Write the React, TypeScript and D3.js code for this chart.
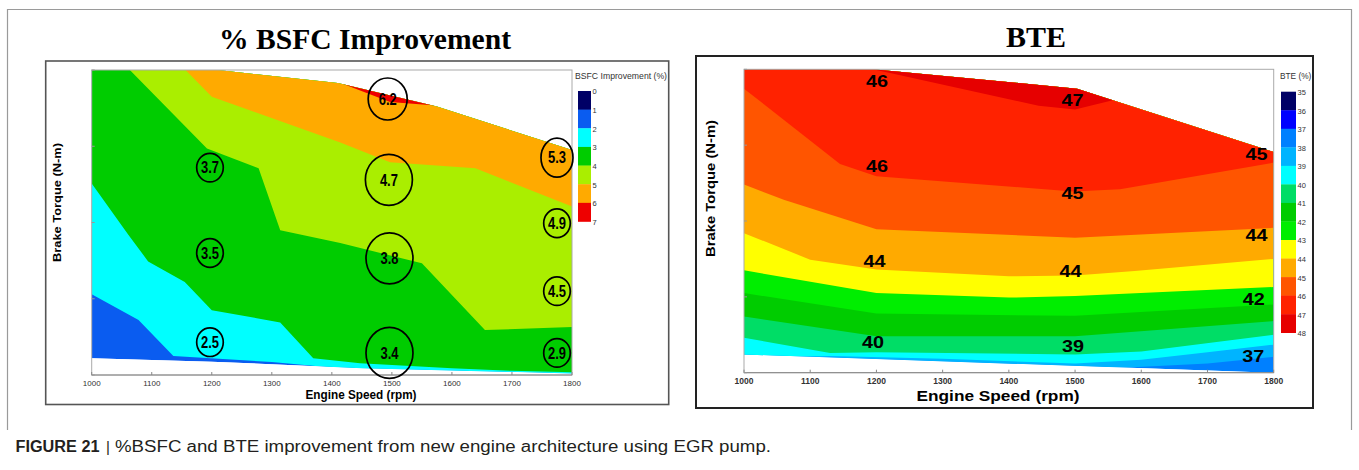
import React from "react";
import * as d3 from "d3";

type P = [number, number];

// ---------- shared axes ----------
const rpmTicks = [1000, 1100, 1200, 1300, 1400, 1500, 1600, 1700, 1800];
const torqueTicks = [0, 100, 200, 300, 400];

// ---------- % BSFC improvement ----------
const bsfcLevels = [0, 1, 2, 3, 4, 5, 6, 7];
const bsfcColors = ["#000066", "#0a5cf0", "#00ffff", "#00cc00", "#aaee00", "#ffaa00", "#ee0000"];
const bsfcTopEdge: P[] = [[1000, 400], [1210, 400], [1410, 383], [1575, 352], [1800, 295]];
const bsfcBottomEdge: P[] = [[1000, 22], [1200, 17.5], [1450, 9], [1800, 2]];
// contour lines (rpm, torque) of each level
const bsfcIso2: P[] = [[1000, 106], [1078, 72], [1136, 25], [1300, 17], [1400, 10], [1800, -5]];
const bsfcIso3: P[] = [[1000, 251], [1061, 184], [1094, 149], [1155, 122], [1200, 85], [1314, 69], [1369, 22], [1447, 15.5], [1600, 9], [1700, 5.5], [1800, 3.5]];
const bsfcIso4: P[] = [[1061, 402], [1192, 297], [1278, 271], [1314, 190], [1414, 173], [1550, 146.5], [1655, 59], [1800, 63]];
const bsfcIso5: P[] = [[1155, 401], [1200, 365], [1414, 305], [1497, 279], [1639, 271], [1800, 221]];
const bsfcIso6: P[] = [[1405, 386], [1497, 358], [1578, 353]];
const bsfcPoints: [number, number, string][] = [
  [1197, 272, "3.7"], [1197, 160, "3.5"], [1197, 43, "2.5"],
  [1493, 362, "6.2"], [1495, 256, "4.7"], [1496, 153, "3.8"], [1496, 29, "3.4"],
  [1775, 285, "5.3"], [1775, 199, "4.9"], [1775, 110, "4.5"], [1775, 29, "2.9"],
];

// ---------- BTE ----------
const bteLevels = [35, 36, 37, 38, 39, 40, 41, 42, 43, 44, 45, 46, 47, 48];
const bteColors = ["#000066", "#0000ff", "#0080ff", "#00b4ff", "#00ffff", "#00dd66", "#00cc00", "#00ee00", "#ffff00", "#ffaa00", "#ff5500", "#ff2200", "#e60000"];
const bteTopEdge: P[] = [[1000, 400], [1194, 400], [1503, 374.5], [1800, 291]];
const bteBottomEdge: P[] = [[1000, 24], [1800, 0]];
const bteIso38: P[] = [[1000, 10], [1400, 5], [1580, 7], [1700, 12], [1800, 21]];
const bteIso39: P[] = [[1000, 20], [1130, 22], [1300, 18.5], [1500, 12], [1600, 17], [1700, 27], [1800, 37]];
const bteIso40: P[] = [[1000, 46], [1130, 26], [1200, 27], [1500, 24], [1600, 28], [1800, 50]];
const bteIso41: P[] = [[1000, 74], [1200, 48], [1500, 48], [1800, 68]];
const bteIso42: P[] = [[1000, 105], [1200, 78], [1500, 75], [1800, 90]];
const bteIso43: P[] = [[1000, 135], [1200, 105], [1400, 99], [1500, 101], [1800, 113]];
const bteIso44: P[] = [[1000, 184], [1100, 149], [1200, 136], [1400, 127], [1500, 128], [1590, 134], [1800, 150]];
const bteIso45: P[] = [[1000, 248], [1060, 228], [1200, 189], [1500, 178], [1800, 191]];
const bteIso46: P[] = [[1000, 374.5], [1145, 275], [1200, 259], [1497, 239], [1568, 242], [1800, 277]];
const bteIso47: P[] = [[1190, 401], [1445, 352], [1500, 347], [1560, 360]];
const btePoints: [number, number, string][] = [
  [1201, 384, "46"], [1496, 359, "47"], [1774, 288, "45"],
  [1201, 272, "46"], [1496, 237, "45"], [1774, 182, "44"],
  [1197, 147, "44"], [1493, 134, "44"], [1770, 97, "42"],
  [1195, 41, "40"], [1497, 35, "39"], [1769, 21.5, "37"],
];

const SANS = "'Liberation Sans', Arial, Helvetica, sans-serif";
const NARROW = "'Liberation Sans Narrow', 'Arial Narrow', 'Liberation Sans', Arial, sans-serif";
const SERIF = "'Liberation Serif', 'Times New Roman', serif";

type Scale = d3.ScaleLinear<number, number>;

function linePath(pts: P[], x: Scale, y: Scale) {
  return d3.line<P>().x((d) => x(d[0])).y((d) => y(d[1]))(pts) + "Z";
}
function bandPath(iso: P[], x: Scale, y: Scale) {
  const first = iso[0];
  const last = iso[iso.length - 1];
  return linePath([...iso, [last[0], 2000], [first[0], 2000]], x, y);
}

function ContourFill(props: {
  id: string; x: Scale; y: Scale; top: P[]; bottom: P[];
  levels: number[]; colors: string[]; base: number; isolines: { level: number; pts: P[] }[];
}) {
  const { id, x, y, top, bottom, levels, colors, base, isolines } = props;
  const domain = linePath([...top, ...bottom.slice().reverse()], x, y);
  const col = (lv: number) => colors[levels.indexOf(lv)];
  return (
    <g>
      <defs>
        <clipPath id={id}><path d={domain} /></clipPath>
      </defs>
      <g clipPath={`url(#${id})`}>
        <path d={domain} fill={col(base)} />
        {isolines.map((iso) => (
          <path key={iso.level} d={bandPath(iso.pts, x, y)} fill={col(iso.level)} />
        ))}
      </g>
    </g>
  );
}

function ColorBar(props: { x: number; w: number; y0: number; y1: number; levels: number[]; colors: string[]; fs: number }) {
  const { x, w, y0, y1, levels, colors, fs } = props;
  const s = d3.scaleLinear().domain([levels[0], levels[levels.length - 1]]).range([y0, y1]);
  return (
    <g>
      {colors.map((c, i) => (
        <rect key={i} x={x} y={s(levels[i])} width={w} height={s(levels[i + 1]) - s(levels[i]) + 0.3} fill={c} />
      ))}
      {levels.map((l) => (
        <text key={l} x={x + w + 1.5} y={s(l) + 1.5} fontSize={fs} fontFamily={SANS} fill="#333" dominantBaseline="middle">{l}</text>
      ))}
    </g>
  );
}

function Axes(props: { x: Scale; y: Scale; fs: number; weight: string; labelY: number }) {
  const { x, y, fs, weight, labelY } = props;
  const [x0, x1] = x.range();
  const [yb, yt] = y.range();
  return (
    <g>
      <rect x={x0} y={yt} width={x1 - x0} height={yb - yt} fill="none" stroke="#aaa" strokeWidth={1} />
      <line x1={x0} x2={x1} y1={yb} y2={yb} stroke="#888" strokeWidth={1} />
      {rpmTicks.map((t) => (
        <g key={t}>
          <line x1={x(t)} x2={x(t)} y1={yb} y2={yb - 3} stroke="#888" />
          <text x={x(t)} y={labelY} fontSize={fs} fontWeight={weight} fontFamily={NARROW} fill="#333" textAnchor="middle">{t}</text>
        </g>
      ))}
      {torqueTicks.map((t) => (
        <line key={t} x1={x0} x2={x0 + 3} y1={y(t)} y2={y(t)} stroke="#999" />
      ))}
    </g>
  );
}

export default function App() {
  const xL = d3.scaleLinear().domain([1000, 1800]).range([91.7, 572]);
  const yL = d3.scaleLinear().domain([0, 400]).range([375, 70]);
  const xR = d3.scaleLinear().domain([1000, 1800]).range([744, 1273.7]);
  const yR = d3.scaleLinear().domain([0, 400]).range([372.7, 69.3]);

  const bsfcIsolines = [
    { level: 2, pts: bsfcIso2 }, { level: 3, pts: bsfcIso3 }, { level: 4, pts: bsfcIso4 },
    { level: 5, pts: bsfcIso5 }, { level: 6, pts: bsfcIso6 },
  ];
  const bteIsolines = [
    { level: 38, pts: bteIso38 }, { level: 39, pts: bteIso39 }, { level: 40, pts: bteIso40 },
    { level: 41, pts: bteIso41 }, { level: 42, pts: bteIso42 }, { level: 43, pts: bteIso43 },
    { level: 44, pts: bteIso44 }, { level: 45, pts: bteIso45 }, { level: 46, pts: bteIso46 },
    { level: 47, pts: bteIso47 },
  ];

  const circleR = (rpm: number, label: string): [number, number] => {
    if (label === "6.2") return [19.5, 21];
    if (label === "5.3") return [16, 19.5];
    if (rpm > 1400 && rpm < 1600) return [23.5, 25.5];
    return [13.3, 14.3];
  };

  return (
    <svg width={1359} height={470} style={{ position: "absolute", left: 0, top: 0, background: "#fff" }}>
      <rect x={0} y={0} width={1359} height={470} fill="#fff" />
      {/* figure border */}
      <path d="M7.5,430 V9.5 H1351.5 V430" fill="none" stroke="#9a9a9a" strokeWidth={1.2} />

      {/* ---------- left panel ---------- */}
      <rect x={45.7} y={61} width={623} height={343.5} fill="#fff" stroke="#555" strokeWidth={1.6} />
      <text x={365} y={49} textAnchor="middle" fontFamily={SERIF} fontWeight="bold" fontSize={30} textLength={292} lengthAdjust="spacingAndGlyphs">% BSFC Improvement</text>
      <ContourFill id="clipL" x={xL} y={yL} top={bsfcTopEdge} bottom={bsfcBottomEdge} levels={bsfcLevels} colors={bsfcColors} base={1} isolines={bsfcIsolines} />
      <Axes x={xL} y={yL} fs={8} weight="normal" labelY={385.5} />
      {bsfcPoints.map(([r, t, s], i) => {
        const [rx, ry] = circleR(r, s);
        return (
          <g key={i}>
            <ellipse cx={xL(r)} cy={yL(t)} rx={rx} ry={ry} fill="none" stroke="#000" strokeWidth={1.7} />
            <text x={xL(r)} y={yL(t) + 5.8} textAnchor="middle" fontFamily={NARROW} fontWeight="bold" fontSize={16.5} textLength={18} lengthAdjust="spacingAndGlyphs">{s}</text>
          </g>
        );
      })}
      <text x={575} y={79} fontFamily={SANS} fontSize={8.3} fill="#333" textLength={92} lengthAdjust="spacingAndGlyphs">BSFC Improvement (%)</text>
      <ColorBar x={578} w={13} y0={91} y1={221.5} levels={bsfcLevels} colors={bsfcColors} fs={7.5} />
      <text transform="translate(61,202.5) rotate(-90)" textAnchor="middle" fontFamily={SANS} fontWeight="bold" fontSize={11} textLength={119} lengthAdjust="spacingAndGlyphs">Brake Torque (N-m)</text>
      <text x={361} y={399} textAnchor="middle" fontFamily={SANS} fontWeight="bold" fontSize={13} textLength={111} lengthAdjust="spacingAndGlyphs">Engine Speed (rpm)</text>

      {/* ---------- right panel ---------- */}
      <rect x={696} y={56} width={617} height={352} fill="#fff" stroke="#222" strokeWidth={2} />
      <text x={1036} y={47} textAnchor="middle" fontFamily={SERIF} fontWeight="bold" fontSize={30}>BTE</text>
      <ContourFill id="clipR" x={xR} y={yR} top={bteTopEdge} bottom={bteBottomEdge} levels={bteLevels} colors={bteColors} base={37} isolines={bteIsolines} />
      <Axes x={xR} y={yR} fs={8.5} weight="bold" labelY={384} />
      {btePoints.map(([r, t, s], i) => (
        <text key={i} x={xR(r)} y={yR(t) + 6} textAnchor="middle" fontFamily={SANS} fontWeight="bold" fontSize={17} textLength={22} lengthAdjust="spacingAndGlyphs">{s}</text>
      ))}
      <text x={1280} y={79} fontFamily={SANS} fontSize={8.3} fill="#333">BTE (%)</text>
      <ColorBar x={1281} w={15} y0={91.7} y1={332.7} levels={bteLevels} colors={bteColors} fs={7.5} />
      <text transform="translate(715,188.5) rotate(-90)" textAnchor="middle" fontFamily={SANS} fontWeight="bold" fontSize={13.5} textLength={137} lengthAdjust="spacingAndGlyphs">Brake Torque (N-m)</text>
      <text x={998} y={401} textAnchor="middle" fontFamily={SANS} fontWeight="bold" fontSize={15} textLength={163} lengthAdjust="spacingAndGlyphs">Engine Speed (rpm)</text>

      {/* ---------- caption ---------- */}
      <text x={15.5} y={452} fontFamily={NARROW} fontWeight="bold" fontSize={16} fill="#231f20" textLength={84} lengthAdjust="spacingAndGlyphs">FIGURE 21</text>
      <text x={106} y={452} fontFamily={SANS} fontSize={15} fill="#231f20">|</text>
      <text x={115} y={452} fontFamily={NARROW} fontSize={16} fill="#231f20" textLength={656} lengthAdjust="spacingAndGlyphs">%BSFC and BTE improvement from new engine architecture using EGR pump.</text>
    </svg>
  );
}
